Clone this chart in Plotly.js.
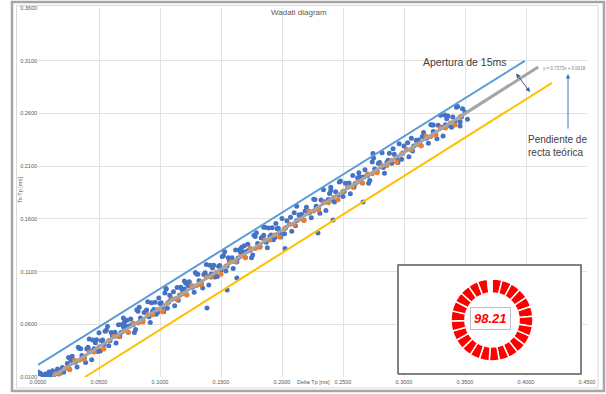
<!DOCTYPE html>
<html><head><meta charset="utf-8">
<script src="https://cdn.plot.ly/plotly-3.0.1.min.js"></script>
<style>html,body{margin:0;padding:0;background:#fff;}#chart{width:606px;height:394px;}</style>
</head><body><div id="chart"></div>
<script>
const chartTitle = 'Wadati diagram';
const xTitle = 'Delta Tp [ms]';
const yTitle = 'Ts-Tp [ms]';
const xTickVals = [0,0.05,0.10,0.15,0.20,0.25,0.30,0.35,0.40,0.45];
const xTickText = ['0.0000','0.0500','0.1000','0.1500','0.2000','0.2500','0.3000','0.3500','0.4000','0.4500'];
const yTickVals = [0.01,0.06,0.11,0.16,0.21,0.26,0.31,0.36];
const yTickText = ['0.0100','0.0600','0.1100','0.1600','0.2100','0.2600','0.3100','0.3600'];

// observed (blue) points
const blueX0 = [0.002,0.004,0.006,0.008,0.009,0.010,0.012,0.013,0.015,0.016,0.017,0.019,0.020,0.021,0.022];
const blueY0 = [0.0135,0.0112,0.0128,0.0105,0.0147,0.0121,0.0160,0.0118,0.0142,0.0175,0.0128,0.0163,0.0190,0.0145,0.0178];
const blueX1 = [0.024,0.026,0.028,0.030,0.032,0.034,0.036,0.038,0.040,0.042,
0.044,0.046,0.048,0.050,0.052,0.054,0.056,0.058,0.060,0.062,
0.064,0.066,0.068,0.070,0.072,0.074,0.076,0.078,0.080,0.082,
0.084,0.086,0.088,0.090,0.092,0.094,0.096,0.098,0.100,0.102,
0.104,0.106,0.108,0.110,0.112,0.114,0.116,0.118,0.120,0.122,
0.124,0.126,0.128,0.130,0.132,0.134,0.136,0.138,0.140,0.142,
0.144,0.146,0.148,0.150,0.152,0.154,0.156,0.158,0.160,0.162,
0.164,0.166,0.168,0.170,0.172,0.174,0.176,0.178,0.180,0.182,
0.184,0.186,0.188,0.190,0.192,0.194,0.196,0.198,0.200,0.202,
0.204,0.206,0.208,0.210,0.212,0.214,0.216,0.218,0.220,0.222,
0.224,0.226,0.228,0.230,0.232,0.234,0.236,0.238,0.240,0.242,
0.244,0.246,0.248,0.250,0.252,0.254,0.256,0.258,0.260,0.262,
0.264,0.266,0.268,0.270,0.272,0.274,0.276,0.278,0.280,0.282,
0.284,0.286,0.288,0.290,0.292,0.294,0.296,0.298,0.300,0.302,
0.304,0.306,0.308,0.310,0.312,0.314,0.316,0.318,0.320,0.322,
0.324,0.326,0.328,0.330,0.332,0.334,0.336,0.338,0.340,0.342,
0.344,0.346,0.348,0.350,0.352];
const blueY1 = [0.0227,0.0172,0.0296,0.0241,0.0196,0.0371,0.0305,0.0280,0.0365,0.0460,
0.0264,0.0369,0.0454,0.0359,0.0443,0.0408,0.0543,0.0397,0.0522,0.0487,
0.0422,0.0596,0.0521,0.0576,0.0581,0.0525,0.0650,0.0595,0.0550,0.0724,
0.0659,0.0634,0.0719,0.0813,0.0618,0.0723,0.0808,0.0712,0.0797,0.0762,
0.0896,0.0751,0.0876,0.0841,0.0775,0.0950,0.0875,0.0930,0.0934,0.0879,
0.1004,0.0949,0.0903,0.1078,0.1013,0.0988,0.1072,0.1167,0.0972,0.1077,
0.1161,0.1066,0.1151,0.1116,0.1250,0.1105,0.1230,0.1194,0.1129,0.1304,
0.1229,0.1283,0.1288,0.1233,0.1358,0.1302,0.1257,0.1432,0.1367,0.1341,
0.1426,0.1521,0.1326,0.1430,0.1515,0.1420,0.1505,0.1469,0.1604,0.1459,
0.1583,0.1548,0.1483,0.1658,0.1582,0.1637,0.1642,0.1587,0.1711,0.1656,
0.1611,0.1786,0.1720,0.1695,0.1780,0.1875,0.1679,0.1784,0.1869,0.1774,
0.1858,0.1823,0.1958,0.1813,0.1937,0.1902,0.1837,0.2011,0.1936,0.1991,
0.1996,0.1940,0.2065,0.2010,0.1965,0.2139,0.2074,0.2049,0.2134,0.2228,
0.2033,0.2138,0.2223,0.2127,0.2212,0.2177,0.2312,0.2166,0.2291,0.2256,
0.2190,0.2365,0.2290,0.2345,0.2349,0.2294,0.2419,0.2364,0.2318,0.2493,
0.2428,0.2403,0.2487,0.2582,0.2387,0.2492,0.2576,0.2481,0.2566,0.2531,
0.2665,0.2520,0.2645,0.2610,0.2544];
const blueX2 = [0.027,0.031,0.035,0.039,0.043,0.047,0.051,0.055,0.059,0.063,
0.067,0.071,0.075,0.079,0.083,0.087,0.091,0.095,0.099,0.103,
0.107,0.111,0.115,0.119,0.123,0.127,0.131,0.135,0.139,0.143,
0.147,0.151,0.155,0.159,0.163,0.167,0.171,0.175,0.179,0.183,
0.187,0.191,0.195,0.199,0.203,0.207,0.211,0.215,0.219,0.223,
0.227,0.231,0.235,0.239,0.243,0.247,0.251,0.255,0.259,0.263,
0.267,0.271,0.275,0.279,0.283,0.287,0.291,0.295,0.299,0.303,
0.307,0.311,0.315,0.319,0.323,0.327,0.331,0.335,0.339,0.343,
0.347];
const blueY2 = [0.0259,0.0248,0.0368,0.0237,0.0347,0.0426,0.0346,0.0535,0.0445,0.0524,
0.0484,0.0623,0.0583,0.0522,0.0762,0.0711,0.0671,0.0740,0.0850,0.0719,
0.0809,0.0908,0.0828,0.0927,0.0967,0.0956,0.1075,0.0945,0.1054,0.1134,
0.1053,0.1243,0.1152,0.1232,0.1191,0.1331,0.1290,0.1230,0.1469,0.1419,
0.1378,0.1448,0.1557,0.1427,0.1516,0.1616,0.1535,0.1635,0.1674,0.1664,
0.1783,0.1652,0.1762,0.1841,0.1761,0.1950,0.1860,0.1939,0.1899,0.2038,
0.1998,0.1937,0.2177,0.2126,0.2086,0.2155,0.2265,0.2134,0.2224,0.2323,
0.2243,0.2342,0.2382,0.2371,0.2491,0.2360,0.2469,0.2549,0.2468,0.2658,
0.2567];
const blueX3 = [0.025,0.029,0.033,0.037,0.041,0.045,0.049,0.053,0.057,0.061,
0.065,0.069,0.073,0.077,0.081,0.085,0.089,0.093,0.097,0.101,
0.105,0.109,0.113,0.117,0.121,0.125,0.129,0.133,0.137,0.141,
0.145,0.149,0.153,0.157,0.161,0.165,0.169,0.173,0.177,0.181,
0.185,0.189,0.193,0.197];
const blueY3 = [0.0284,0.0244,0.0383,0.0273,0.0382,0.0452,0.0341,0.0451,0.0580,0.0490,
0.0489,0.0599,0.0638,0.0597,0.0737,0.0626,0.0736,0.0805,0.0695,0.0804,
0.0934,0.0843,0.0843,0.0952,0.0992,0.0951,0.1091,0.0980,0.1090,0.1159,
0.1049,0.1158,0.1288,0.1197,0.1197,0.1306,0.1346,0.1305,0.1445,0.1334,
0.1444,0.1513,0.1403,0.1512];
const blueX4 = [0.000,0.001,0.1385,0.155,0.163,0.2025,0.2295,0.2418,0.2664,0.2746,0.3336,0.324,0.346,0.212,0.105,0.070,0.050,0.240,0.120,0.185];
const blueY4 = [0.0147,0.0130,0.0755,0.0925,0.1040,0.1320,0.1466,0.1590,0.1760,0.2220,0.2586,0.2490,0.2480,0.1720,0.0940,0.0660,0.0520,0.1900,0.1010,0.1520];

// theoretical (orange) points
const orangeX = [0.014,0.018,0.022,0.026,0.030,0.034,0.038,0.042,0.046,0.050,
0.054,0.058,0.062,0.066,0.070,0.074,0.078,0.082,0.086,0.090,
0.094,0.098,0.102,0.106,0.110,0.114,0.118,0.122,0.126,0.130,
0.134,0.138,0.142,0.146,0.150,0.154,0.158,0.162,0.166,0.170,
0.174,0.178,0.182,0.186,0.190,0.194,0.198,0.202,0.206,0.210,
0.214,0.218,0.222,0.226,0.230,0.234,0.238,0.242,0.246,0.250,
0.254,0.258,0.262,0.266,0.270,0.274,0.278,0.282,0.286,0.290,
0.294,0.298,0.302,0.306,0.310,0.314,0.318,0.322,0.326,0.330,
0.334,0.338,0.342,0.346];
const orangeY = [0.0131,0.0131,0.0180,0.0170,0.0259,0.0259,0.0268,0.0338,0.0337,0.0387,
0.0366,0.0446,0.0485,0.0485,0.0534,0.0524,0.0613,0.0613,0.0622,0.0692,
0.0691,0.0741,0.0720,0.0800,0.0839,0.0839,0.0888,0.0878,0.0967,0.0967,
0.0976,0.1046,0.1045,0.1094,0.1074,0.1153,0.1193,0.1192,0.1242,0.1231,
0.1321,0.1320,0.1330,0.1399,0.1399,0.1448,0.1428,0.1507,0.1547,0.1546,
0.1596,0.1585,0.1675,0.1674,0.1684,0.1753,0.1753,0.1802,0.1782,0.1861,
0.1901,0.1900,0.1950,0.1939,0.2029,0.2028,0.2038,0.2107,0.2107,0.2156,
0.2136,0.2215,0.2255,0.2254,0.2304,0.2293,0.2383,0.2382,0.2392,0.2461,
0.2461,0.2510,0.2490,0.2569];

const trendX = [0.012, 0.410];
const trendY = [0.0106, 0.3041];
const upperX = [0.000, 0.399];
const upperY = [0.0214, 0.3098];
const lowerX = [0.0385, 0.4213];
const lowerY = [0.0100, 0.2890];

// inset panel frame (axis units)
const insetBoxX = [0.2951, 0.4451, 0.4451, 0.2951, 0.2951];
const insetBoxY = [0.0128, 0.0128, 0.1163, 0.1163, 0.0128];

const equationText = 'y = 0.7373x + 0.0018';
const apertureLabel = 'Apertura de 15ms';
const slopeLabel = 'Pendiente de<br>recta teórica';
const gaugeLabel = '98.21';
const gaugeSegments = [3.9284,3.9284,3.9284,3.9284,3.9284,3.9284,3.9284,3.9284,3.9284,3.9284,3.9284,3.9284,3.9284,3.9284,3.9284,3.9284,3.9284,3.9284,3.9284,3.9284,3.9284,3.9284,3.9284,3.9284,3.9284];
const gaugeGap = [1.79];

// ---- layout helpers (pixel -> paper) ----
const PL=38, PR=587, PT=8, PB=377;
const px = x => (x-PL)/(PR-PL);
const py = y => (PB-y)/(PB-PT);
const FONT = 'Liberation Sans, Arial, sans-serif';

const blueXAll = blueX0.concat(blueX1, blueX2, blueX3, blueX4);
const blueYAll = blueY0.concat(blueY1, blueY2, blueY3, blueY4);

const traces = [
  {type:'scatter', mode:'lines', x:insetBoxX, y:insetBoxY, fill:'toself', fillcolor:'#ffffff', line:{color:'#595959', width:1.5}, hoverinfo:'skip', showlegend:false},
  {type:'scatter', mode:'markers', x:blueXAll, y:blueYAll, marker:{color:'#4472C4', size:5}, hoverinfo:'skip', showlegend:false},
  {type:'scatter', mode:'markers', x:orangeX, y:orangeY, marker:{color:'#ED7D31', size:5}, hoverinfo:'skip', showlegend:false},
  {type:'scatter', mode:'lines', x:trendX, y:trendY, line:{color:'#A5A5A5', width:3}, hoverinfo:'skip', showlegend:false},
  {type:'scatter', mode:'lines', x:upperX, y:upperY, line:{color:'#5B9BD5', width:2}, hoverinfo:'skip', showlegend:false},
  {type:'scatter', mode:'lines', x:lowerX, y:lowerY, line:{color:'#FFC000', width:2}, hoverinfo:'skip', showlegend:false},
  {type:'pie', values:gaugeSegments.concat(gaugeGap), sort:false, direction:'clockwise', rotation:0, hole:0.66,
   marker:{colors:gaugeSegments.map(()=> '#FF0000').concat(['rgba(0,0,0,0)']), line:{color:'#ffffff', width:1.5}},
   textinfo:'none', hoverinfo:'skip', showlegend:false,
   domain:{x:[px(451), px(533)], y:[py(361), py(279)]}}
];

const annFont = (s,c) => ({family:FONT, size:s, color:c});
const layout = {
  width:606, height:394,
  margin:{l:PL, r:606-PR, t:PT, b:394-PB, pad:0},
  paper_bgcolor:'#ffffff', plot_bgcolor:'#ffffff',
  font:{family:FONT},
  xaxis:{range:[0,0.45], tickvals:xTickVals, ticktext:xTickText, showgrid:true, gridcolor:'#e2e2e2', gridwidth:1,
         zeroline:false, showline:false, ticks:'', tickfont:annFont(5.5,'#595959'), fixedrange:true},
  yaxis:{range:[0.01,0.36], tickvals:yTickVals, ticktext:yTickText, showgrid:true, gridcolor:'#e2e2e2', gridwidth:1,
         zeroline:false, showline:false, ticks:'', tickfont:annFont(5.5,'#595959'), fixedrange:true},
  shapes:[
    {type:'rect', xref:'paper', yref:'paper', x0:px(12), x1:px(604), y0:py(391), y1:py(2), line:{color:'#a6a6a6', width:2.5}, layer:'below'},
    {type:'rect', xref:'paper', yref:'paper', x0:px(16.5), x1:px(598), y0:py(388), y1:py(5.5), line:{color:'#d9d9d9', width:1}, layer:'below'}
  ],
  annotations:[
    {text:chartTitle, xref:'paper', yref:'paper', x:px(299), y:py(13), xanchor:'center', yanchor:'middle', showarrow:false, font:annFont(8,'#595959')},
    {text:xTitle, xref:'paper', yref:'paper', x:px(313), y:py(382), xanchor:'center', yanchor:'middle', showarrow:false, font:annFont(5.5,'#595959')},
    {text:yTitle, xref:'paper', yref:'paper', x:px(20), y:py(190), xanchor:'center', yanchor:'middle', textangle:-90, showarrow:false, font:annFont(5.5,'#595959')},
    {text:apertureLabel, xref:'paper', yref:'paper', x:px(464), y:py(62), xanchor:'center', yanchor:'middle', showarrow:false, font:annFont(10.5,'#404040')},
    {text:equationText, xref:'paper', yref:'paper', x:px(564), y:py(68), xanchor:'center', yanchor:'middle', showarrow:false, font:annFont(4.5,'#7f7f7f')},
    {text:slopeLabel, xref:'paper', yref:'paper', x:px(526), y:py(146), xanchor:'left', yanchor:'middle', align:'left', showarrow:false, font:annFont(10,'#404040')},
    {text:'', xref:'paper', yref:'paper', x:px(530), y:py(92), ax:-15, ay:-20, axref:'pixel', ayref:'pixel', showarrow:true,
     arrowside:'end+start', arrowhead:2, startarrowhead:2, arrowsize:0.9, startarrowsize:0.9, arrowwidth:1, arrowcolor:'#3A5A9A'},
    {text:'', xref:'paper', yref:'paper', x:px(568), y:py(74), ax:0, ay:56, axref:'pixel', ayref:'pixel', showarrow:true,
     arrowhead:2, arrowsize:0.9, arrowwidth:1, arrowcolor:'#4472C4'},
    {text:gaugeLabel, xref:'paper', yref:'paper', x:px(490), y:py(318), xanchor:'center', yanchor:'middle', showarrow:false,
     font:{family:FONT, size:13, color:'#FF0000', weight:'bold', style:'italic'}, bgcolor:'#ffffff', bordercolor:'#bfbfbf', borderwidth:1, borderpad:3}
  ]
};

Plotly.newPlot('chart', traces, layout, {staticPlot:true, displayModeBar:false});
</script>
</body></html>
